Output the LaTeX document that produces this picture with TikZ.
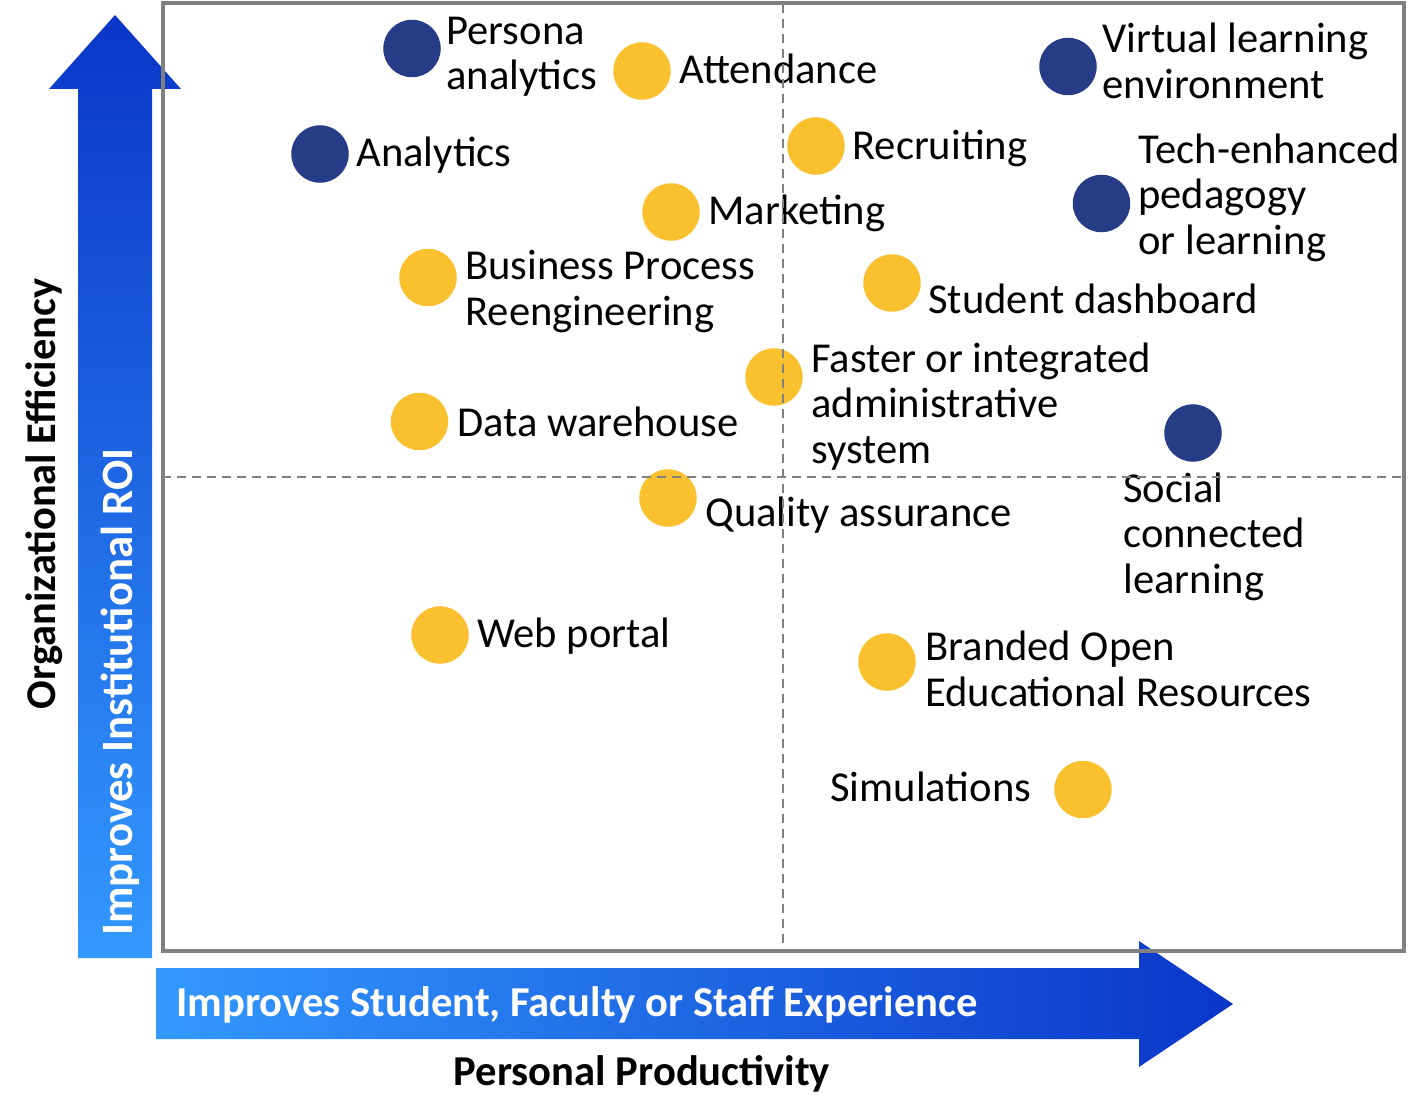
\documentclass[tikz,border=0pt]{standalone}
\usepackage{fontspec}
\setmainfont{Carlito}
\definecolor{darkb}{RGB}{10,54,200}
\definecolor{lightb}{RGB}{51,153,255}
\definecolor{navyc}{RGB}{38,60,135}
\definecolor{goldc}{RGB}{251,192,45}
\definecolor{framec}{RGB}{128,128,128}
\begin{document}
\begin{tikzpicture}[x=0.5pt,y=-0.5pt,
  lbl/.style={font=\fontsize{21.3}{22.75}\selectfont, inner sep=0pt, anchor=base west, align=left},
  dot/.style={circle, minimum size=28.75pt, inner sep=0pt, draw=none},
  navydot/.style={dot, fill=navyc},
  golddot/.style={dot, fill=goldc},
  axislbl/.style={font=\bfseries\fontsize{21.3}{22.75}\selectfont, inner sep=0pt, anchor=base},
  divider/.style={draw=framec, line width=1pt, dash pattern=on 4.5pt off 3pt}]
\useasboundingbox (0,0) rectangle (1409,1102);
% vertical arrow
\shade[top color=darkb, bottom color=lightb] (78,958) -- (78,89) -- (49,89) -- (115,15) -- (181,89) -- (152,89) -- (152,958) -- cycle;
\node[axislbl, font=\bfseries\fontsize{22.4}{24}\selectfont, rotate=90, text=white] (roi) at (132,692) {Improves Institutional ROI};
\node[axislbl, font=\bfseries\fontsize{21.2}{23}\selectfont, rotate=90] (orgeff) at (55,494) {Organizational Efficiency};
% horizontal arrow
\shade[left color=lightb, right color=darkb] (156,968) -- (1139,968) -- (1139,941) -- (1233,1004) -- (1139,1067) -- (1139,1039) -- (156,1039) -- cycle;
\node[axislbl, anchor=base west, text=white] (exp) at (176,1016) {Improves Student, Faculty or Staff Experience};
\node[axislbl] (pp) at (642,1085) {Personal Productivity};
% dots
\node[navydot] (d1) at (412,48.5) {};
\node[navydot] (d2) at (320,154) {};
\node[navydot] (d3) at (1068,66.5) {};
\node[navydot] (d4) at (1101.5,203.5) {};
\node[navydot] (d5) at (1193,433) {};
\node[golddot] (g1) at (642,71) {};
\node[golddot] (g2) at (816,146) {};
\node[golddot] (g3) at (671,212) {};
\node[golddot] (g4) at (428,277.5) {};
\node[golddot] (g5) at (892,283) {};
\node[golddot] (g6) at (774,377) {};
\node[golddot] (g7) at (419.5,421.5) {};
\node[golddot] (g8) at (668,498) {};
\node[golddot] (g9) at (440,635) {};
\node[golddot] (g10) at (887,662) {};
\node[golddot] (g11) at (1083,789.5) {};
% labels (multi-line: anchor at the baseline of the last line)
\node[lbl] (t1) at (446,90) {Persona\\analytics};
\node[lbl] (t2) at (356,167) {Analytics};
\node[lbl] (t3) at (1102,98.5) {Virtual learning\\environment};
\node[lbl] (t4) at (1138,254) {Tech-enhanced\\pedagogy\\or learning};
\node[lbl] (t5) at (1123,593) {Social\\connected\\learning};
\node[lbl] (u1) at (679,84) {Attendance};
\node[lbl] (u2) at (852,160) {Recruiting};
\node[lbl] (u3) at (708,225) {Marketing};
\node[lbl] (u4) at (465,325) {Business Process\\Reengineering};
\node[lbl] (u5) at (928,313) {Student dashboard};
\node[lbl] (u6) at (811,463) {Faster or integrated\\administrative\\system};
\node[lbl] (u7) at (457,436) {Data warehouse};
\node[lbl] (u8) at (705,526) {Quality assurance};
\node[lbl] (u9) at (477,647) {Web portal};
\node[lbl] (u10) at (925,706) {Branded Open\\Educational Resources};
\node[lbl] (u11) at (830,801) {Simulations};
% quadrant dividers
\draw[divider] (783,4) -- (783,950);
\draw[divider] (162,477) -- (1404,477);
% frame
\draw[framec, line width=2pt] (162.5,3.5) rectangle (1404,950.5);
\end{tikzpicture}
\end{document}
